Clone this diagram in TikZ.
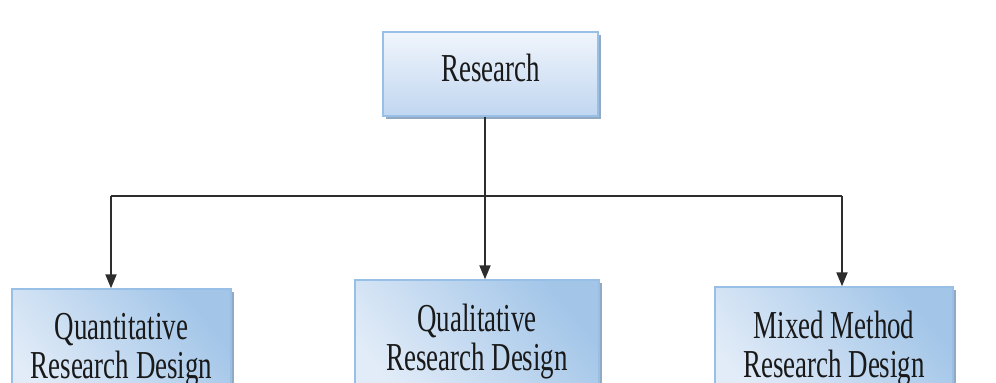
\documentclass[tikz,border=0pt]{standalone}
\usepackage{fontspec}
\setmainfont{Liberation Serif}[FakeStretch=0.68]
\usetikzlibrary{arrows.meta,shadows}

\definecolor{BoxEdge}{RGB}{152,192,230}
\definecolor{BoxLight}{RGB}{226,236,248}
\definecolor{BoxDark}{RGB}{162,197,232}
\definecolor{BoxTop}{RGB}{240,245,252}
\definecolor{BoxBottom}{RGB}{192,214,240}
\definecolor{BoxShadow}{RGB}{135,158,186}
\definecolor{LinkGray}{RGB}{45,45,45}

\begin{document}
\begin{tikzpicture}[x=0.5pt,y=-0.5pt,font=\fontsize{19.8}{19.5}\selectfont,
  box/.style={draw=BoxEdge,line width=0.7pt,align=center,inner sep=0pt,
    text=black!90,drop shadow={shadow xshift=1.3pt,shadow yshift=-1.3pt,
    fill=BoxShadow,opacity=0.9}},
  topbox/.style={box,top color=BoxTop,bottom color=BoxBottom},
  designbox/.style={box,left color=BoxLight,right color=BoxDark,shading angle=130,
    minimum height=61.5pt},
  link/.style={draw=LinkGray,line width=1pt},
  arrow/.style={link,-{Triangle[length=7pt,width=5.5pt]}}]
  \useasboundingbox (0,0) rectangle (996,383);
  \clip (0,0) rectangle (996,383);

  \node[topbox,minimum width=107.5pt,minimum height=42pt,text depth=6pt] (research) at (490.5,74) {Research};

  \node[designbox,minimum width=109.5pt] (quant) at (121.5,350.5) {Quantitative\\Research Design};
  \node[designbox,minimum width=122pt] (qual) at (477,341.5) {Qualitative\\Research Design};
  \node[designbox,minimum width=119pt] (mixed) at (834,348.5) {Mixed Method\\Research Design};

  % branch line under the top box
  \coordinate (busL) at (111,196);
  \coordinate (busM) at (485,196);
  \coordinate (busR) at (842,196);

  \draw[link] (busL) -- (busR);
  \draw[arrow] (research.south -| busM) -- (busM |- qual.north);
  \draw[arrow] (busL) -- (busL |- quant.north);
  \draw[arrow] (busR) -- (busR |- mixed.north);
\end{tikzpicture}
\end{document}
